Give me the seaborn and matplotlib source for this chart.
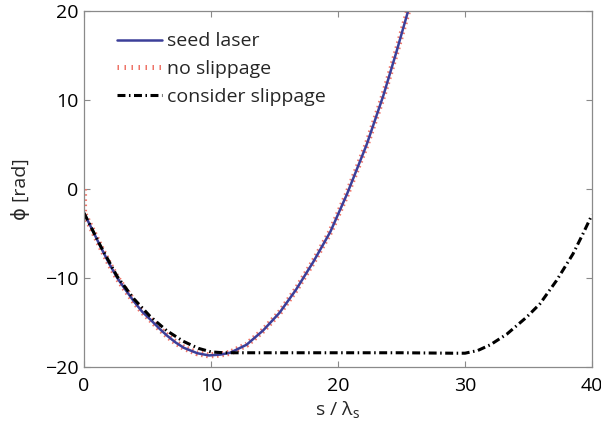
import matplotlib
matplotlib.use("Agg")
import matplotlib.pyplot as plt
from matplotlib.lines import Line2D
import seaborn as sns

# Phase of the seed laser (and the no-slippage result, which follows it)
seed_s = [0, 0.66, 1.31, 1.97, 2.62, 3.28, 3.94, 4.59, 5.25, 5.91, 6.56, 7.22,
          7.87, 8.92, 9.84, 10.76, 11.5, 12.8, 14.1, 15.4, 16.7, 18.05, 19.4,
          20.7, 22.26, 23.57, 24.6, 25.54]
seed_phi = [-2.7, -4.6, -6.5, -8.35, -10.0, -11.35, -12.65, -13.8, -14.7, -15.65,
            -16.5, -17.25, -17.85, -18.45, -18.7, -18.6, -18.4, -17.5, -15.9,
            -13.9, -11.3, -8.2, -4.8, -0.6, 5.0, 10.5, 15.4, 20.1]

noslip_s = [0, 0, 0, 0] + seed_s
noslip_phi = [0.0, -0.8, -1.6, -2.2] + seed_phi

# Phase when slippage is taken into account
slip_s = [0, 1.3, 2.6, 3.9, 5.2, 6.5, 7.8, 9.0, 10.0, 11.0, 15.0, 20.0, 25.0,
          29.0, 30.0, 31.0, 32.0, 33.3, 34.85, 35.9, 37.2, 38.5, 39.3, 40.0]
slip_phi = [-2.7, -6.4, -9.8, -12.3, -14.3, -15.9, -17.1, -17.9, -18.3, -18.4,
            -18.4, -18.4, -18.4, -18.45, -18.45, -18.15, -17.5, -16.3, -14.4,
            -12.9, -10.3, -7.3, -5.0, -2.9]

x_ticks = [0, 10, 20, 30, 40]
y_ticks = [-20, -10, 0, 10, 20]
labels = ["seed laser", "no slippage", "consider slippage"]

sns.set_theme(style="white")
plt.rcParams["font.family"] = ["Open Sans", "DejaVu Sans"]
plt.rcParams["mathtext.default"] = "regular"

BLUE = "#3c3f99"
RED = "#ee7468"
BLACK = "#000000"
GREY = "#8a8a8a"
FS = 14

fig = plt.figure(figsize=(6.01, 4.32), dpi=100)
ax = fig.add_axes([84 / 601, 1 - 367 / 432, 508 / 601, 356 / 432])

curve_ticks = (0, (0.25, 0.6))
legend_ticks = (0, (0.3, 1.1))
dashdot = (0, (2.6, 1.15, 0.5, 1.15))

sns.lineplot(x=noslip_s, y=noslip_phi, ax=ax, estimator=None, sort=False,
             color=RED, lw=4.4, linestyle=curve_ticks, dash_capstyle="butt")
sns.lineplot(x=seed_s, y=seed_phi, ax=ax, estimator=None, sort=False,
             color=BLUE, lw=1.8)
sns.lineplot(x=slip_s, y=slip_phi, ax=ax, estimator=None, sort=False,
             color=BLACK, lw=2.2, linestyle=dashdot, dash_capstyle="butt")

ax.set_xlim(x_ticks[0], x_ticks[-1])
ax.set_ylim(y_ticks[0], y_ticks[-1])
ax.set_xticks(x_ticks)
ax.set_yticks(y_ticks)
ax.set_yticklabels(["\u221220", "\u221210", "0", "10", "20"])

for sp in ax.spines.values():
    sp.set_visible(True)
    sp.set_color(GREY)
    sp.set_linewidth(0.9)
ax.tick_params(axis="both", which="both", direction="in", length=4, width=0.8,
               color=GREY, labelsize=FS, labelcolor="black",
               top=True, right=True, bottom=True, left=True)
ax.tick_params(axis="x", pad=7)
ax.tick_params(axis="y", pad=4)

ax.set_xlabel("s / $\\lambda_s$", fontsize=FS, labelpad=3)
ax.set_ylabel("\u03d5 [rad]", fontsize=FS, labelpad=11)

handles = [
    Line2D([], [], color=BLUE, lw=1.8),
    Line2D([], [], color=RED, lw=3.6, linestyle=legend_ticks, dash_capstyle="butt"),
    Line2D([], [], color=BLACK, lw=2.2, linestyle=dashdot, dash_capstyle="butt"),
]
ax.legend(handles, labels, loc="upper left", bbox_to_anchor=(0.065, 0.94),
          frameon=False, fontsize=FS, handlelength=2.3, handletextpad=0.25,
          labelspacing=0.5, borderpad=0, borderaxespad=0)

fig.savefig("out.png", dpi=100, facecolor="white")
